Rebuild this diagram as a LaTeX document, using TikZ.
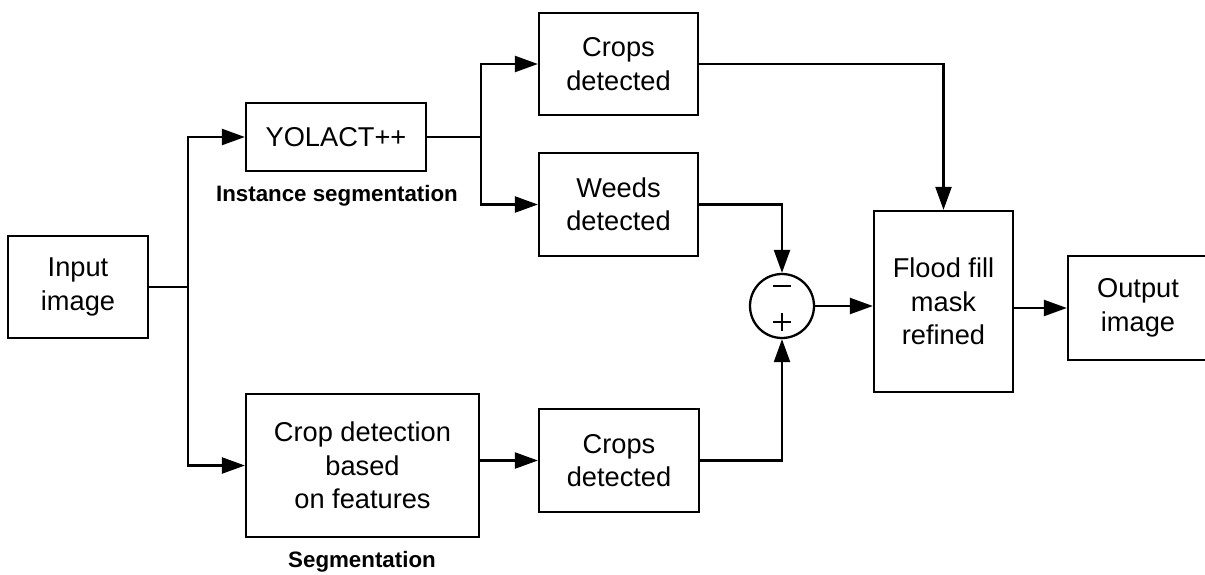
\documentclass[tikz,border=0pt]{standalone}
\usepackage{fontspec}
\setmainfont{Liberation Sans}
\usetikzlibrary{arrows.meta,positioning}
\tikzset{>={Triangle[length=4.6mm,width=3.2mm]}}
\tikzset{
  block/.style={draw, line width=1.3pt, align=center, inner sep=2pt,
    font=\fontsize{15.5}{19}\selectfont},
  caption/.style={font=\bfseries\fontsize{12.7}{15}\selectfont},
  link/.style={->, line width=1.3pt}
}

\begin{document}
\begin{tikzpicture}[x=0.02cm, y=-0.02cm]
\useasboundingbox (0,0) rectangle (1205,575);
% blocks
\node[block, minimum width=2.8cm, minimum height=2.04cm] (input) at (78,287) {Input\\image};
\node[block, minimum width=3.6cm, minimum height=1.36cm] (yolact) at (336,137) {YOLACT++};
\node[caption] (instlbl) at (337,196) {Instance segmentation};
\node[block, minimum width=4.66cm, minimum height=2.86cm] (cropdet) at (362.5,465.5) {Crop detection\\based\\on features};
\node[caption] (seglbl) at (362,562) {Segmentation};
\node[block, minimum width=3.18cm, minimum height=2.04cm] (cropsA) at (618.5,64) {Crops\\detected};
\node[block, minimum width=3.18cm, minimum height=2.06cm] (weeds) at (618.5,204.5) {Weeds\\detected};
\node[block, minimum width=3.2cm, minimum height=2.06cm] (cropsB) at (619,460.5) {Crops\\detected};
\node[draw, circle, line width=1.3pt, minimum size=1.28cm, inner sep=0pt] (sum) at (782,306) {};
\node[block, minimum width=2.78cm, minimum height=3.62cm] (flood) at (943.5,301.5) {Flood fill\\mask\\refined};
\node[block, minimum width=2.8cm, minimum height=2.08cm] (output) at (1138,308) {Output\\image};
% signs in the summing point
\draw[line width=0.7pt] (773,286) -- (791,286);
\draw[line width=0.7pt] (773,322) -- (791,322);
\draw[line width=0.7pt] (782,313) -- (782,331);
% branch points
\coordinate (j1) at (188,287);
\coordinate (j2) at (481,137);
% connectors
\draw[line width=1.3pt] (input) -- (j1);
\draw[link] (j1) |- (yolact);
\draw[link] (j1) |- (cropdet);
\draw[line width=1.3pt] (yolact) -- (j2);
\draw[link] (j2) |- (cropsA);
\draw[link] (j2) |- (weeds);
\draw[link] (cropdet.east |- cropsB) -- (cropsB);
\draw[link] (cropsA) -| (flood);
\draw[link] (weeds) -| (sum);
\draw[link] (cropsB) -| (sum);
\draw[link] (sum) -- (sum -| flood.west);
\draw[link] (flood.east |- output) -- (output);
\end{tikzpicture}
\end{document}
